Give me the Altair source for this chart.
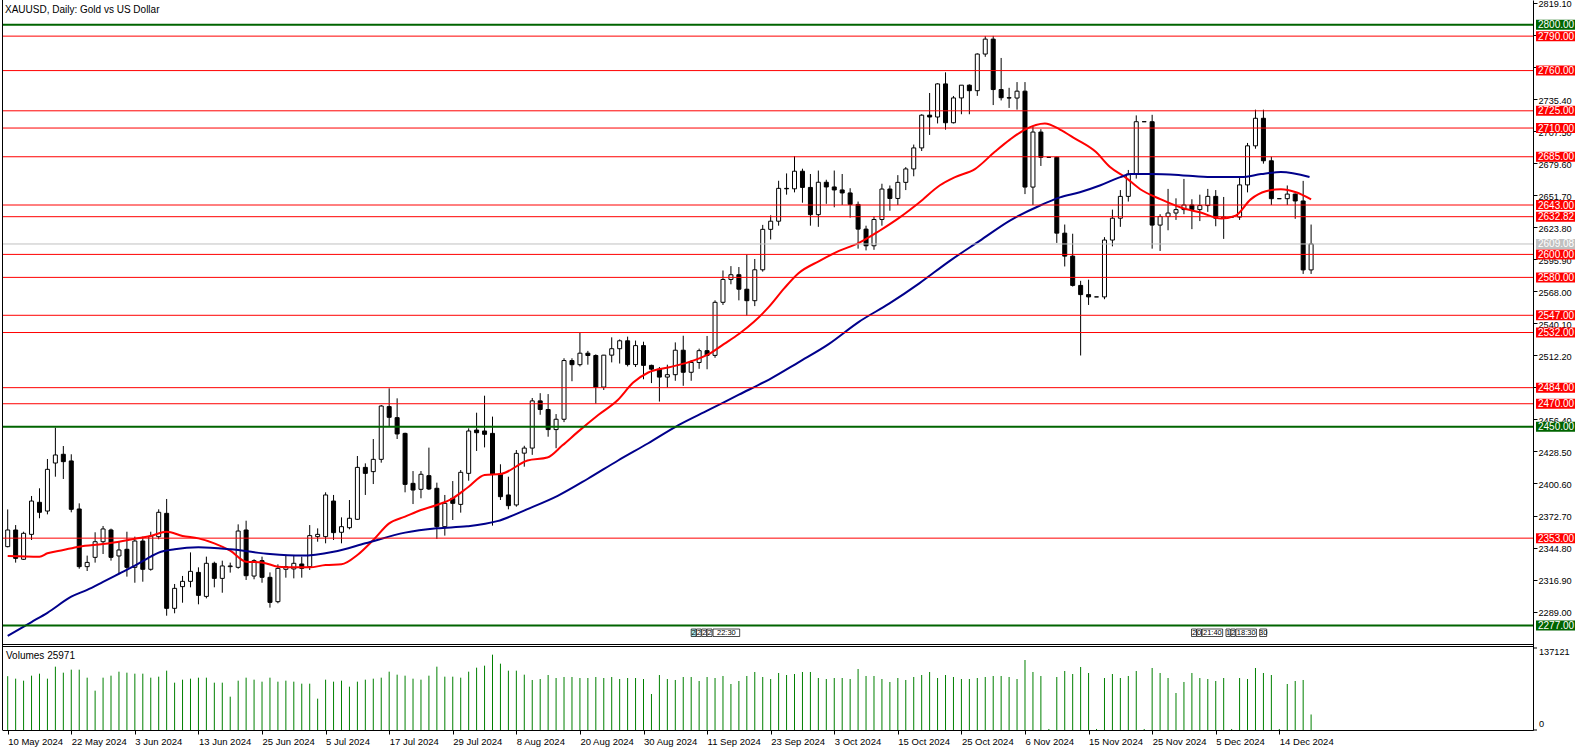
import altair as alt
import pandas as pd

TITLE = "XAUUSD, Daily:  Gold vs US Dollar"
VOLUME_TITLE = "Volumes 25971"
FONT = "Liberation Sans"

opens = [2345.6, 2360.1, 2334.6, 2356.3, 2384.2, 2376.6, 2418.4, 2426.0, 2420.2, 2378.4,
         2328.2, 2336.3, 2349.9, 2360.1, 2337.5, 2343.3, 2327.6, 2350.5, 2325.9, 2354.3,
         2374.6, 2291.9, 2310.8, 2315.4, 2323.2, 2302.3, 2331.1, 2318.0, 2328.2, 2327.6,
         2360.1, 2320.0, 2333.4, 2318.9, 2297.7, 2325.9, 2326.2, 2330.5, 2328.2, 2354.3,
         2354.3, 2385.3, 2358.1, 2362.1, 2369.4, 2414.6, 2410.9, 2421.6, 2467.5, 2457.9,
         2444.2, 2400.7, 2395.5, 2407.4, 2396.4, 2363.0, 2387.7, 2382.4, 2409.4, 2447.1,
         2446.3, 2444.2, 2408.6, 2390.6, 2381.9,
         2427.0, 2431.4, 2472.5, 2465.0, 2447.5, 2456.5, 2507.6, 2504.0, 2514.0, 2512.0,
         2484.5, 2512.3, 2517.9, 2524.8, 2504.1, 2520.6, 2503.4, 2500.1, 2493.2, 2495.3,
         2516.6, 2497.4, 2505.9, 2516.2, 2512.1, 2558.3, 2578.2, 2582.3, 2569.7, 2559.7,
         2586.6, 2621.8, 2628.9, 2657.5, 2657.1, 2672.4, 2658.3, 2634.6, 2662.8, 2658.7,
         2656.1, 2653.5, 2643.5, 2622.0, 2607.5, 2630.4, 2656.9, 2648.7, 2662.7, 2674.4,
         2692.7, 2721.2, 2719.6, 2748.4, 2714.6, 2736.2, 2747.3, 2742.5, 2774.4, 2787.4,
         2743.5, 2736.4, 2736.1, 2742.1, 2658.6, 2706.5, 2684.5, 2684.5, 2618.5, 2598.5,
         2573.0, 2565.0, 2563.0, 2563.0, 2612.5, 2631.5, 2650.5, 2670.0, 2715.5, 2715.5,
         2625.5, 2633.0, 2636.0, 2639.0, 2643.0, 2639.0, 2642.5, 2650.5, 2631.5, 2632.5,
         2632.5, 2660.5, 2694.5, 2718.5, 2681.5, 2648.5, 2648.5, 2652.5, 2646.5, 2586.5]

highs = [2378.0, 2364.4, 2358.6, 2389.7, 2396.4, 2421.9, 2449.2, 2433.2, 2426.0, 2383.3,
         2337.8, 2358.1, 2363.6, 2361.3, 2349.9, 2358.6, 2354.3, 2354.3, 2358.6, 2378.1,
         2387.1, 2313.1, 2320.1, 2340.6, 2327.6, 2336.9, 2332.5, 2333.4, 2331.7, 2365.0,
         2368.2, 2334.6, 2336.9, 2323.2, 2330.2, 2337.5, 2337.5, 2336.9, 2364.4, 2361.5,
         2392.9, 2390.6, 2371.1, 2386.2, 2424.5, 2418.1, 2439.3, 2468.9, 2483.4, 2474.7,
         2444.8, 2411.4, 2411.4, 2431.8, 2401.3, 2390.6, 2402.7, 2412.3, 2448.6, 2462.2,
         2477.0, 2458.8, 2417.3, 2406.5, 2429.7,
         2433.4, 2475.0, 2479.2, 2478.4, 2461.0, 2509.6, 2509.6, 2531.6, 2516.0, 2513.0,
         2512.5, 2527.8, 2526.0, 2528.4, 2525.0, 2524.0, 2504.0, 2502.0, 2504.0, 2523.4,
         2529.2, 2508.0, 2518.0, 2529.0, 2560.0, 2586.0, 2589.8, 2589.0, 2600.0, 2596.0,
         2625.7, 2634.0, 2664.1, 2670.5, 2685.6, 2674.6, 2670.0, 2673.0, 2665.0, 2673.0,
         2670.0, 2657.6, 2646.0, 2625.0, 2633.0, 2661.5, 2660.0, 2669.0, 2676.0, 2695.6,
         2722.0, 2740.5, 2749.0, 2758.5, 2737.9, 2747.0, 2748.0, 2775.0, 2790.0, 2790.2,
         2771.0, 2745.0, 2750.0, 2750.0, 2711.0, 2709.0, 2684.5, 2685.0, 2626.0, 2618.0,
         2577.0, 2578.0, 2563.0, 2615.0, 2639.0, 2656.0, 2673.5, 2721.0, 2715.5, 2721.5,
         2635.0, 2657.0, 2648.8, 2665.7, 2648.0, 2652.0, 2657.0, 2656.0, 2650.0, 2632.5,
         2667.0, 2697.0, 2726.0, 2726.0, 2685.0, 2648.5, 2660.0, 2653.0, 2664.0, 2626.0]

lows = [2345.0, 2331.7, 2334.0, 2351.4, 2370.3, 2373.7, 2406.5, 2404.5, 2375.5, 2326.4,
        2324.4, 2331.7, 2339.2, 2333.4, 2322.4, 2319.5, 2314.2, 2315.1, 2324.7, 2352.0,
        2285.5, 2287.6, 2296.8, 2310.2, 2295.4, 2300.6, 2310.2, 2305.5, 2323.0, 2326.4,
        2316.6, 2317.2, 2314.2, 2292.5, 2296.3, 2318.6, 2318.0, 2318.6, 2325.3, 2349.9,
        2348.5, 2351.4, 2348.5, 2360.7, 2368.8, 2390.6, 2400.1, 2418.7, 2450.0, 2439.3,
        2392.9, 2382.7, 2387.7, 2394.9, 2352.3, 2355.2, 2368.8, 2375.2, 2403.0, 2428.9,
        2432.0, 2363.9, 2386.2, 2378.1, 2380.4,
        2415.2, 2425.5, 2460.4, 2441.3, 2431.3, 2454.0, 2489.6, 2502.5, 2504.0, 2470.0,
        2482.0, 2506.0, 2505.0, 2502.5, 2502.0, 2491.3, 2488.0, 2471.9, 2484.0, 2490.0,
        2485.6, 2490.0, 2500.4, 2500.0, 2510.0, 2556.0, 2574.0, 2560.0, 2546.8, 2555.0,
        2585.0, 2613.0, 2625.0, 2652.0, 2654.0, 2645.0, 2625.0, 2624.0, 2644.0, 2641.0,
        2643.0, 2632.0, 2605.0, 2603.5, 2604.0, 2625.0, 2638.0, 2643.0, 2656.0, 2668.0,
        2690.0, 2704.0, 2714.0, 2708.6, 2714.0, 2722.0, 2722.0, 2738.0, 2772.0, 2730.0,
        2734.0, 2727.5, 2726.0, 2652.5, 2643.0, 2677.0, 2684.5, 2610.0, 2589.5, 2572.0,
        2512.0, 2556.0, 2563.0, 2561.0, 2607.0, 2624.0, 2646.0, 2666.0, 2715.5, 2605.0,
        2603.0, 2621.0, 2630.0, 2635.0, 2622.0, 2629.0, 2637.0, 2624.5, 2613.5, 2632.5,
        2630.0, 2654.0, 2692.0, 2679.0, 2643.0, 2648.5, 2643.0, 2631.0, 2583.0, 2583.0]

closes = [2360.1, 2335.4, 2357.2, 2385.3, 2375.5, 2412.9, 2425.4, 2419.6, 2378.1, 2328.2,
          2331.9, 2349.9, 2361.0, 2336.3, 2342.7, 2327.6, 2350.5, 2325.9, 2354.9, 2375.5,
          2291.9, 2309.3, 2315.4, 2324.1, 2303.2, 2331.1, 2318.0, 2328.8, 2328.8, 2359.2,
          2320.3, 2333.4, 2318.9, 2297.1, 2326.7, 2328.2, 2331.1, 2326.7, 2355.2, 2356.3,
          2390.6, 2357.8, 2363.0, 2370.3, 2414.6, 2409.4, 2421.6, 2468.0, 2458.2, 2443.7,
          2399.8, 2394.9, 2408.6, 2395.8, 2363.0, 2383.3, 2383.3, 2410.3, 2446.3, 2444.8,
          2443.4, 2408.9, 2389.1, 2381.3, 2426.8,
          2431.4, 2472.5, 2465.0, 2447.5, 2456.5, 2507.6, 2504.0, 2514.0, 2512.0, 2484.5,
          2512.3, 2517.9, 2524.8, 2504.1, 2520.6, 2503.4, 2500.1, 2493.2, 2495.3, 2516.6,
          2497.4, 2505.9, 2516.2, 2512.1, 2558.3, 2578.2, 2582.3, 2569.7, 2559.7, 2586.6,
          2621.8, 2628.9, 2657.5, 2657.1, 2672.4, 2658.3, 2634.6, 2662.8, 2658.7, 2656.1,
          2653.5, 2643.5, 2622.0, 2607.5, 2630.4, 2656.9, 2648.7, 2662.7, 2674.4, 2692.7,
          2721.2, 2719.6, 2748.4, 2714.6, 2736.2, 2747.3, 2742.5, 2774.4, 2787.4, 2743.5,
          2736.4, 2736.1, 2742.1, 2658.6, 2706.5, 2684.5, 2684.5, 2618.5, 2598.5, 2573.0,
          2565.0, 2563.0, 2563.0, 2612.5, 2631.5, 2650.5, 2670.0, 2715.5, 2715.5, 2625.5,
          2633.0, 2636.0, 2639.0, 2643.0, 2639.0, 2642.5, 2650.5, 2631.5, 2632.5, 2632.5,
          2660.5, 2694.5, 2718.5, 2681.5, 2648.5, 2648.5, 2652.5, 2646.5, 2586.5, 2609.1]

volumes = [90000, 85840, 82500, 90860, 94200, 85840, 105900, 95870, 100890, 100890,
           87510, 65770, 87510, 90860, 97550, 95870, 94200, 94200, 87510, 89180,
           99220, 79150, 84170, 85840, 87510, 87510, 79150, 79150, 55740, 82500,
           87510, 84170, 80820, 87510, 80820, 82500, 80820, 77480, 77480, 52400,
           84170, 80820, 82500, 72460, 80820, 84170, 85840, 87510, 97550, 92530,
           90860, 85840, 84170, 90860, 105900, 89180, 89180, 87510, 97550, 104230,
           107580, 125970, 110920, 99220, 99220,
           92530, 83610, 85280, 91970, 86950, 88630, 88630, 86950, 86950, 88630,
           86950, 88630, 85280, 86950, 86950, 85280, 60200, 91970, 85280, 83610,
           88630, 88630, 81940, 88630, 86950, 90300, 76920, 81940, 90300, 96990,
           88630, 85280, 95320, 91970, 93640, 96990, 96990, 86950, 85280, 86950,
           86950, 85280, 102000, 90300, 90300, 85280, 80270, 86950, 83610, 88630,
           91970, 96990, 86950, 91970, 88630, 85280, 85280, 86950, 88630, 90300,
           90300, 88630, 85280, 117050, 96990, 90300, 1700, 88630, 98660, 93640,
           105350, 95320, 1700, 86950, 93640, 86950, 90300, 98660, 1700, 103680,
           95320, 86950, 61870, 80270, 95320, 86950, 85280, 81940, 86950, 1700,
           86950, 85280, 103680, 95320, 91970, 1700, 76920, 81940, 83610, 25971]

date_labels = ["10 May 2024", "22 May 2024", "3 Jun 2024", "13 Jun 2024", "25 Jun 2024",
               "5 Jul 2024", "17 Jul 2024", "29 Jul 2024", "8 Aug 2024", "20 Aug 2024",
               "30 Aug 2024", "11 Sep 2024", "23 Sep 2024", "3 Oct 2024", "15 Oct 2024",
               "25 Oct 2024", "6 Nov 2024", "15 Nov 2024", "25 Nov 2024", "5 Dec 2024",
               "14 Dec 2024"]

price_ticks = [2819.10, 2791.20, 2763.30, 2735.40, 2707.50, 2679.60, 2651.70, 2623.80,
               2595.90, 2568.00, 2540.10, 2512.20, 2484.30, 2456.40, 2428.50, 2400.60,
               2372.70, 2344.80, 2316.90, 2289.00]
volume_ticks = [0, 137121]

red_levels = [2790.0, 2760.0, 2725.0, 2710.0, 2685.0, 2643.0, 2632.82, 2600.0, 2580.0,
              2547.0, 2532.0, 2484.0, 2470.0, 2353.0]
green_levels = [2800.0, 2450.0, 2277.0]
bid_level = 2609.08

# moving averages (bar index, price)
ma_fast_idx = [0, 4, 5, 7, 9, 12, 14, 16, 18, 20, 22, 24, 26, 28, 30, 32, 34, 36, 38, 40,
               42, 44, 46, 48, 50, 52, 54, 56, 58, 60, 62, 65.4, 67.9, 69.8, 71.7, 74.3,
               76.8, 78.7, 80.6, 83.1, 85.6, 88.2, 90.1, 92.0, 93.9, 95.8, 97.7, 99.5,
               102.1, 104.6, 107.1, 109.7, 112.2, 114.7, 117.3, 119.2, 121.7, 124.2, 126.1,
               128.0, 130.5, 132.4, 134.3, 136.9, 138.7, 140.6, 142.5, 145.1, 147.6, 150.1,
               152.7, 154.5, 156.4, 158.3, 160.2, 162.1, 164.0]
ma_fast_val = [2337.5, 2336.9, 2339.8, 2342.7, 2345.6, 2347.9, 2349.9, 2352.5, 2354.9, 2358.6,
               2354.9, 2352.8, 2348.5, 2342.1, 2332.5, 2331.9, 2328.2, 2327.6, 2327.6, 2329.6,
               2330.2, 2338.3, 2351.4, 2365.9, 2371.7, 2377.5, 2381.9, 2387.7, 2397.8, 2408.0,
               2408.8, 2420.6, 2423.2, 2433.8, 2445.3, 2460.2, 2473.5, 2488.4, 2497.2, 2501.6,
               2506.0, 2513.1, 2521.9, 2530.7, 2541.3, 2554.5, 2570.4, 2583.6, 2594.2, 2603.0,
               2610.0, 2620.6, 2632.0, 2645.2, 2660.2, 2667.3, 2674.3, 2689.3, 2699.9, 2708.7,
               2714.0, 2708.7, 2700.8, 2689.3, 2676.1, 2667.3, 2656.7, 2647.9, 2640.8, 2636.4,
               2631.2, 2633.8, 2647.9, 2654.9, 2656.7, 2654.1, 2647.9]

ma_slow_idx = [0, 3, 5, 8, 10, 12, 14, 16, 18, 19, 21, 24, 28, 33, 37, 41, 45, 50, 54.0,
               57.8, 61.6, 65.4, 69.2, 73.0, 76.8, 80.6, 84.4, 88.2, 92.0, 95.8, 99.5, 103.3,
               107.1, 110.9, 114.7, 118.5, 122.3, 126.1, 129.9, 132.4, 134.9, 137.5, 140.0,
               141.3, 143.8, 147.6, 151.4, 155.2, 157.7, 160.2, 163.8]
ma_slow_val = [2268.0, 2280.0, 2288.0, 2302.0, 2308.0, 2315.0, 2322.0, 2329.0, 2337.0, 2340.4,
               2343.3, 2345.0, 2343.3, 2339.2, 2337.8, 2341.2, 2348.5, 2357.8, 2361.6,
               2363.3, 2367.8, 2378.3, 2389.8, 2404.7, 2420.6, 2435.6, 2451.4, 2464.6, 2477.9,
               2491.1, 2506.1, 2521.9, 2541.3, 2557.1, 2574.8, 2594.2, 2611.8, 2629.4, 2642.6,
               2649.6, 2654.1, 2660.2, 2667.3, 2669.9, 2669.9, 2669.0, 2667.3, 2667.3, 2669.9,
               2671.7, 2667.3]

event_text = ["2", "2", "2", "2", "22:30", "2", "0", "21:40", "1", "2", "18:30", "30"]
event_start = [86.0, 86.66, 87.33, 88.0, 88.75, 148.95, 149.62, 150.29, 153.29, 153.91, 154.54, 157.54]
event_end = [86.62, 87.25, 87.95, 88.62, 92.1, 149.57, 150.2, 152.87, 153.82, 154.45, 157.12, 158.41]
event_mark = [1, 0, 0, 0, 0, 0, 0, 0, 0, 0, 0, 0]

# ------------------------------------------------------------------ data frames
n = len(opens)
bars = pd.DataFrame({"i": list(range(n)), "o": opens, "h": highs, "l": lows,
                     "c": closes, "v": volumes})
bars["dir"] = ["up" if c >= o else "down" for o, c in zip(opens, closes)]
bars["z"] = 0

levels = pd.DataFrame({
    "lvl": red_levels + green_levels + [bid_level],
    "col": ["#ff0000"] * len(red_levels) + ["#006400"] * len(green_levels) + ["#c0c0c0"],
    "sw": [1] * len(red_levels) + [2] * len(green_levels) + [1],
})
levels["txt"] = ["%.2f" % v for v in levels["lvl"]]

ma_fast = pd.DataFrame({"i": ma_fast_idx, "m": ma_fast_val})
ma_slow = pd.DataFrame({"i": ma_slow_idx, "m": ma_slow_val})
events = pd.DataFrame({"x0": event_start, "x1": event_end, "t": event_text, "hl": event_mark})
events["xm"] = (events["x0"] + events["x1"]) / 2
events["fill"] = ["#aeeeee" if h else "white" for h in events["hl"]]
vticks = pd.DataFrame({"v": volume_ticks, "t": [str(v) for v in volume_ticks]})
one = pd.DataFrame({"a": [0]})

# ------------------------------------------------------------------ scales / axes
W, H = 1531, 730
xs = alt.Scale(domain=[-0.0875, 191.29], nice=False, zero=False)
ys = alt.Scale(domain=[2186.0, 2821.45], nice=False, zero=False)
vs = alt.Scale(domain=[0, 1220700], nice=False, zero=False)

label_expr = "[" + ",".join("'%s'" % d for d in date_labels) + "][round(datum.value / 8)]"
x_axis = alt.Axis(values=list(range(0, 8 * len(date_labels), 8)), labelExpr=label_expr,
                  labelAlign="left", labelBaseline="top", labelPadding=2, labelFont=FONT,
                  labelFontSize=9.5, labelColor="black", tickSize=4, tickColor="black",
                  domainColor="black", grid=False, title=None, labelFlush=False,
                  labelOverlap=False, labelBound=False)
y_axis = alt.Axis(orient="right", values=price_ticks, format=".2f", labelFont=FONT,
                  labelFontSize=9.2, labelColor="black", labelAlign="left",
                  labelBaseline="middle", labelPadding=1, labelOffset=1.2, tickSize=4,
                  tickColor="black", domainColor="black", grid=False, title=None,
                  labelFlush=False, labelOverlap=False, labelBound=False)


def X(field="i"):
    return alt.X(f"{field}:Q", scale=xs, axis=x_axis)


def Y(field, axis=False):
    return alt.Y(f"{field}:Q", scale=ys, axis=y_axis if axis else None)


# ------------------------------------------------------------------ layers
wicks = alt.Chart(bars).mark_rule(color="black", strokeWidth=1).encode(
    x=X(), y=Y("l", axis=True), y2="h:Q")

bodies = alt.Chart(bars).mark_bar(size=4, stroke="black", strokeWidth=1).encode(
    x=X(), y=Y("o"), y2="c:Q",
    fill=alt.Fill("dir:N", scale=alt.Scale(domain=["up", "down"], range=["white", "black"]),
                  legend=None))

fast_line = alt.Chart(ma_fast).mark_line(color="#ff0000", strokeWidth=2,
                                         interpolate="monotone").encode(x=X(), y=Y("m"))
slow_line = alt.Chart(ma_slow).mark_line(color="#00008b", strokeWidth=2,
                                         interpolate="monotone").encode(x=X(), y=Y("m"))

level_lines = alt.Chart(levels).mark_rule().encode(
    y=Y("lvl"), color=alt.Color("col:N", scale=None),
    strokeWidth=alt.StrokeWidth("sw:Q", scale=None))

level_boxes = alt.Chart(levels).mark_rect(yOffset=-5, y2Offset=5).encode(
    y=Y("lvl"), y2="lvl:Q", x=alt.value(W + 3), x2=alt.value(W + 42),
    color=alt.Color("col:N", scale=None))
level_text = alt.Chart(levels).mark_text(
    align="left", baseline="middle", color="white", font=FONT, fontSize=10, dy=0.5).encode(
    y=Y("lvl"), x=alt.value(W + 5), text="txt:N")

vol_bars = alt.Chart(bars).mark_rule(color="#008000", strokeWidth=1).encode(
    x=X(), y=alt.Y("v:Q", scale=vs, axis=None), y2="z:Q")
vol_tick_marks = alt.Chart(vticks).mark_rule(color="black").encode(
    y=alt.Y("v:Q", scale=vs, axis=None), x=alt.value(W), x2=alt.value(W + 4))
vol_top_label = alt.Chart(vticks[vticks["v"] > 0]).mark_text(
    align="left", baseline="top", font=FONT, fontSize=9.2, color="black").encode(
    y=alt.Y("v:Q", scale=vs, axis=None), x=alt.value(W + 6), text="t:N")
vol_zero_label = alt.Chart(vticks[vticks["v"] == 0]).mark_text(
    align="left", baseline="bottom", font=FONT, fontSize=9.2, color="black", dy=-1).encode(
    y=alt.Y("v:Q", scale=vs, axis=None), x=alt.value(W + 6), text="t:N")

frame_left = alt.Chart(one).mark_rule(color="black", strokeWidth=1).encode(
    x=alt.value(0.5), y=alt.value(0), y2=alt.value(H))
frame_price_bottom = alt.Chart(one).mark_rule(color="black", strokeWidth=1).encode(
    x=alt.value(0), x2=alt.value(W), y=alt.value(644.5))
frame_volume_top = alt.Chart(one).mark_rule(color="black", strokeWidth=1).encode(
    x=alt.value(0), x2=alt.value(W), y=alt.value(646.5))
gap_cover = alt.Chart(one).mark_rect(color="white").encode(
    x=alt.value(0), x2=alt.value(W), y=alt.value(645), y2=alt.value(646))

title_text = alt.Chart(one).mark_text(
    align="left", baseline="alphabetic", font=FONT, fontSize=10, color="black").encode(
    x=alt.value(3), y=alt.value(13), text=alt.value(TITLE))
volume_text = alt.Chart(one).mark_text(
    align="left", baseline="alphabetic", font=FONT, fontSize=10, color="black").encode(
    x=alt.value(4), y=alt.value(659), text=alt.value(VOLUME_TITLE))

event_boxes = alt.Chart(events).mark_rect(stroke="black", strokeWidth=0.7).encode(
    x=X("x0"), x2="x1:Q", y=alt.value(629), y2=alt.value(636.5),
    fill=alt.Fill("fill:N", scale=None))
event_labels = alt.Chart(events).mark_text(
    align="center", baseline="middle", font=FONT, fontSize=7.5, color="black").encode(
    x=X("xm"), y=alt.value(633), text="t:N")

chart = alt.layer(
    wicks, bodies, fast_line, slow_line, level_lines,
    vol_bars, gap_cover, frame_left, frame_price_bottom, frame_volume_top,
    event_boxes, event_labels, title_text, volume_text,
    level_boxes, level_text, vol_tick_marks, vol_top_label, vol_zero_label,
).resolve_scale(y="independent").properties(
    width=W, height=H,
    autosize=alt.AutoSizeParams(type="none"),
    padding={"left": 2, "top": 0, "right": 53, "bottom": 21},
    background="white",
).configure_view(strokeWidth=0)

chart.save("out.html", embed_options={"renderer": "svg", "actions": False})
